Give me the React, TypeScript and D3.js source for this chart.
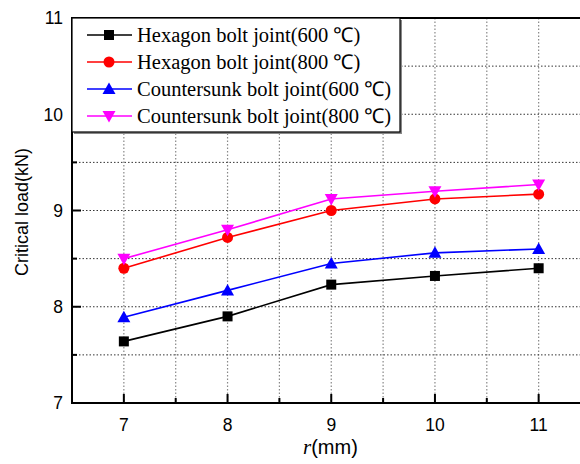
import React from "react";
import * as d3 from "d3";

const radii = [7, 8, 9, 10, 11];
const hex600 = [7.64, 7.90, 8.23, 8.32, 8.40];
const hex800 = [8.40, 8.72, 9.00, 9.12, 9.17];
const csk600 = [7.89, 8.17, 8.45, 8.56, 8.60];
const csk800 = [8.50, 8.80, 9.12, 9.20, 9.27];
const seriesNames = [
  "Hexagon bolt joint(600 ℃)",
  "Hexagon bolt joint(800 ℃)",
  "Countersunk bolt joint(600 ℃)",
  "Countersunk bolt joint(800 ℃)",
];
const seriesColors = ["#000000", "#ff0000", "#0000ff", "#ff00ff"];
const seriesMarkers = ["square", "circle", "triangleUp", "triangleDown"];
const yTicks = [7, 8, 9, 10, 11];
const xTicks = [7, 8, 9, 10, 11];

const W = 580, H = 464;
const L = 72, T = 18, B = 403;
const x = d3.scaleLinear().domain([6.5, 11.5]).range([L, L + 5 * 103.7]);
const y = d3.scaleLinear().domain([7, 11]).range([B, T]);

function Marker({ type, cx, cy, color }: { type: string; cx: number; cy: number; color: string }) {
  if (type === "square") return <rect x={cx - 5} y={cy - 5} width={10} height={10} fill={color} />;
  if (type === "circle") return <circle cx={cx} cy={cy} r={5.5} fill={color} />;
  if (type === "triangleUp")
    return <path d={`M${cx},${cy - 6.5}L${cx + 6.5},${cy + 5}L${cx - 6.5},${cy + 5}Z`} fill={color} />;
  return <path d={`M${cx},${cy + 6.5}L${cx + 6.5},${cy - 5}L${cx - 6.5},${cy - 5}Z`} fill={color} />;
}

export default function App() {
  const data = [hex600, hex800, csk600, csk800];
  const line = d3.line<number>().x((_, i) => x(radii[i])).y((d) => y(d));
  const right = x(11.5);
  const xGrid = d3.range(7, 11.01, 0.5);
  const yGrid = d3.range(7.5, 10.51, 0.5);
  const yMinor = d3.range(7.5, 10.51, 1);
  const xMinor = d3.range(7.5, 11.01, 1);
  const legRows = [35, 62, 89, 116];
  return (
    <svg width={W} height={H} style={{ position: "absolute", left: 0, top: 0, background: "#fff" }}>
      {/* grid */}
      {xGrid.map((v) => (
        <line key={"gx" + v} x1={x(v)} x2={x(v)} y1={T} y2={B} stroke="#888" strokeWidth={1.2} strokeDasharray="1.5,2" />
      ))}
      {yGrid.map((v) => (
        <line key={"gy" + v} x1={L} x2={right} y1={y(v)} y2={y(v)} stroke="#333" strokeWidth={1} strokeDasharray="1.5,2" />
      ))}
      {/* series */}
      {data.map((s, i) => (
        <g key={"s" + i}>
          <path d={line(s) || ""} fill="none" stroke={seriesColors[i]} strokeWidth={1.6} />
          {s.map((v, j) => (
            <Marker key={j} type={seriesMarkers[i]} cx={x(radii[j])} cy={y(v)} color={seriesColors[i]} />
          ))}
        </g>
      ))}
      {/* axes frame */}
      <line x1={L} x2={L} y1={T} y2={B + 1} stroke="#000" strokeWidth={2} />
      <line x1={L - 1} x2={right} y1={B} y2={B} stroke="#000" strokeWidth={2} />
      <line x1={L - 1} x2={right} y1={T} y2={T} stroke="#000" strokeWidth={2} />
      {yTicks.map((v) => (
        <g key={"yt" + v}>
          <line x1={L} x2={L + 9} y1={y(v)} y2={y(v)} stroke="#000" strokeWidth={2} />
          <text x={63} y={y(v)} dy="0.36em" textAnchor="end" fontFamily="Liberation Sans, Arial, sans-serif" fontSize={17.5}>
            {v}
          </text>
        </g>
      ))}
      {yMinor.map((v) => (
        <line key={"ym" + v} x1={L} x2={L + 5} y1={y(v)} y2={y(v)} stroke="#000" strokeWidth={2} />
      ))}
      {xTicks.map((v) => (
        <g key={"xt" + v}>
          <line x1={x(v)} x2={x(v)} y1={B} y2={B - 9} stroke="#000" strokeWidth={2} />
          <text x={x(v)} y={B + 22} dy="0.36em" textAnchor="middle" fontFamily="Liberation Sans, Arial, sans-serif" fontSize={17.5}>
            {v}
          </text>
        </g>
      ))}
      {xMinor.map((v) => (
        <line key={"xm" + v} x1={x(v)} x2={x(v)} y1={B} y2={B - 5} stroke="#000" strokeWidth={2} />
      ))}
      {/* axis titles */}
      <text
        transform={`translate(28,212) rotate(-90)`}
        textAnchor="middle"
        fontFamily="Liberation Sans, Arial, sans-serif"
        fontSize={18}
      >
        Critical load(kN)
      </text>
      <text x={303} y={454} fontFamily="Liberation Sans, Arial, sans-serif" fontSize={20}>
        <tspan fontFamily="Liberation Serif, Times New Roman, serif" fontStyle="italic" fontSize={21}>r</tspan>
        <tspan>(mm)</tspan>
      </text>
      {/* legend */}
      <rect x={L + 2} y={T + 2} width={328} height={114} fill="#888" />
      <rect x={L} y={T} width={328} height={114} fill="#fff" stroke="#000" strokeWidth={1.2} />
      {seriesNames.map((n, i) => (
        <g key={"lg" + i}>
          <line x1={87} x2={132} y1={legRows[i]} y2={legRows[i]} stroke={seriesColors[i]} strokeWidth={1.6} />
          <Marker type={seriesMarkers[i]} cx={109} cy={legRows[i]} color={seriesColors[i]} />
          <text x={137} y={legRows[i]} dy="0.35em" fontFamily="Liberation Serif, Times New Roman, serif" fontSize={20.5}>
            {n}
          </text>
        </g>
      ))}
    </svg>
  );
}
